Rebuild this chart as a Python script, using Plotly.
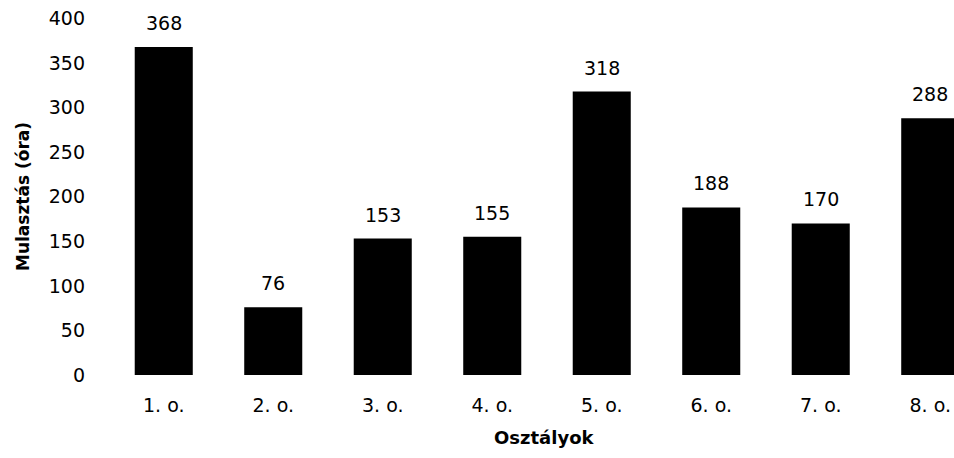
import plotly.graph_objects as go

categories = ["1. o.", "2. o.", "3. o.", "4. o.", "5. o.", "6. o.", "7. o.", "8. o."]
values = [368, 76, 153, 155, 318, 188, 170, 288]
y_ticks = [0, 50, 100, 150, 200, 250, 300, 350, 400]

FONT = "DejaVu Sans"

fig = go.Figure()
fig.add_trace(go.Bar(
    x=categories, y=values,
    marker=dict(color="black", line=dict(width=0)),
    width=0.53,
))

for c, v in zip(categories, values):
    fig.add_annotation(x=c, y=v, text=str(v), showarrow=False,
                       yanchor="bottom", yshift=11,
                       font=dict(family=FONT, size=19, color="black"))

fig.add_annotation(x=0.515, y=-0.174, xref="paper", yref="paper",
                   text="<b>Osztályok</b>", showarrow=False,
                   yanchor="middle",
                   font=dict(family=FONT, size=18, color="black"))

fig.update_layout(
    width=954, height=458,
    margin=dict(l=109, r=0, t=18, b=83),
    paper_bgcolor="white", plot_bgcolor="white",
    showlegend=False,
    font=dict(family=FONT, size=19, color="black"),
    xaxis=dict(range=[-0.5, 7.217], showgrid=False, showline=False,
               zeroline=False, ticks="", ticklabelstandoff=17,
               tickfont=dict(family=FONT, size=19)),
    yaxis=dict(range=[0, 400.5], tickvals=y_ticks, showgrid=False,
               showline=False, zeroline=False, ticks="",
               ticklabelstandoff=23,
               title=dict(text="<b>Mulasztás (óra)</b>", standoff=14,
                          font=dict(family=FONT, size=17)),
               tickfont=dict(family=FONT, size=19)),
)

fig.write_html(
    "out.html",
    config={"displayModeBar": False},
    post_script="document.body.style.margin='0';document.body.style.overflow='hidden';",
)
